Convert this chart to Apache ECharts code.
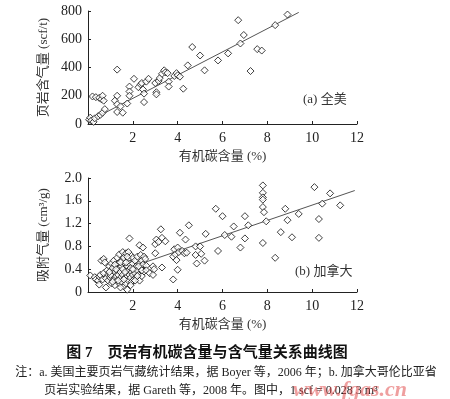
<!DOCTYPE html>
<html>
<head>
<meta charset="utf-8">
<title>页岩有机碳含量与含气量关系曲线图</title>
<style>
  body { margin: 0; background: #fff; }
  #main { width: 450px; height: 399px; }
</style>
<script src="https://cdn.jsdelivr.net/npm/echarts@6/dist/echarts.min.js"></script>
</head>
<body>
<div id="main"></div>
<script>
// (a) 全美: 有机碳含量 (%) vs 页岩含气量 (scf/t)
var tocUS = [0.05, 0.1, 0.15, 0.25, 0.3, 0.45, 0.55, 0.65, 0.75,
  0.2, 0.35, 0.5, 0.6, 0.65, 0.7,
  1.2, 1.3, 1.3, 1.3, 1.3, 1.45, 1.55, 1.75, 1.85, 1.85, 1.85, 2.05, 2.25, 2.35, 2.4, 2.45, 2.5, 2.5, 2.6, 2.7,
  3.0, 3.05, 3.05, 3.15, 3.2, 3.3, 3.4, 3.45, 3.55, 3.6, 3.6, 3.85, 3.95, 4.0, 4.1, 4.25, 4.45,
  4.65, 5.0, 5.2, 5.8, 6.25, 6.7, 6.8, 6.95, 7.25, 7.55, 7.75, 8.35, 8.9];
var gasUS = [30, 45, 25, 15, 40, 55, 65, 80, 105,
  195, 190, 185, 175, 200, 165,
  165, 385, 200, 140, 85, 125, 80, 145, 265, 230, 200, 320, 260, 280, 290, 245, 215, 155, 300, 320,
  290, 225, 210, 305, 325, 355, 380, 365, 360, 300, 265, 340, 360, 345, 335, 250, 415,
  545, 485, 380, 450, 500, 735, 570, 630, 375, 530, 520, 700, 775];
var trendUS = [[0.4, 50], [9.4, 790]];

// (b) 加拿大: 有机碳含量 (%) vs 吸附气量 (cm3/g)
var tocCA = [0.1, 0.3, 0.35, 0.45, 0.5, 0.5, 0.55, 0.6, 0.65, 0.7, 0.7, 0.75, 0.8, 0.8, 0.85, 0.9, 0.9, 0.95,
  1.0, 1.0, 1.05, 1.05, 1.1, 1.1, 1.15, 1.15, 1.2, 1.2, 1.25, 1.25, 1.3, 1.3, 1.3, 1.35, 1.35,
  1.4, 1.4, 1.4, 1.45, 1.45, 1.5, 1.5, 1.5, 1.55, 1.55, 1.6, 1.6, 1.6, 1.65, 1.65, 1.7, 1.7, 1.7,
  1.75, 1.75, 1.75, 1.8, 1.8, 1.8, 1.85, 1.85, 1.85, 1.9, 1.9, 1.9, 1.95, 1.95, 2.0, 2.0, 2.0,
  2.05, 2.05, 2.1, 2.1, 2.15, 2.15, 2.2, 2.2, 2.25, 2.3, 2.3, 2.3, 2.35, 2.35, 2.4, 2.4, 2.45, 2.45,
  2.5, 2.5, 2.55, 2.6,
  1.2, 1.35, 1.45, 1.55, 1.65, 1.7, 1.8, 1.9, 2.0, 2.1, 2.25, 1.0, 1.1, 1.25, 1.6, 1.75, 2.2, 0.95, 1.45, 2.4,
  2.6, 2.75, 2.9, 2.9, 2.95, 3.0, 3.0, 3.05, 3.15, 3.25, 3.3, 3.3, 3.45, 3.8, 3.8, 3.85, 3.9, 3.95,
  4.0, 4.0, 4.05, 4.1, 4.2, 4.3, 4.35, 4.5, 4.4, 4.8, 4.8, 4.85, 5.0, 5.05, 5.2, 5.25,
  5.7, 5.8, 6.0, 6.1, 6.4, 6.5, 6.8, 7.0, 7.0, 7.15,
  7.8, 7.8, 7.8, 7.8, 7.8, 7.85, 7.95, 7.8, 8.35, 8.6, 8.8, 8.9, 9.1, 9.4,
  10.1, 10.3, 10.3, 10.45, 10.8, 11.25];
var gasCA = [0.29, 0.26, 0.22, 0.2, 0.13, 0.27, 0.3, 0.55, 0.22, 0.58, 0.33, 0.52, 0.08, 0.24, 0.38, 0.2, 0.3, 0.45,
  0.25, 0.36, 0.15, 0.5, 0.3, 0.42, 0.22, 0.55, 0.35, 0.12, 0.28, 0.46, 0.2, 0.6, 0.38, 0.3, 0.5,
  0.15, 0.42, 0.66, 0.25, 0.35, 0.55, 0.18, 0.45, 0.3, 0.7, 0.1, 0.4, 0.6, 0.25, 0.5, 0.35, 0.68, 0.15,
  0.04, 0.45, 0.28, 0.58, 0.2, 0.38, 0.94, 0.3, 0.5, 0.25, 0.42, 0.65, 0.35, 0.18, 0.3, 0.5, 0.6,
  0.4, 0.22, 0.33, 0.55, 0.45, 0.26, 0.38, 0.62, 0.3, 0.82, 0.5, 0.2, 0.42, 0.65, 0.28, 0.55, 0.78, 0.48,
  0.62, 0.36, 0.58, 0.46,
  0.48, 0.2, 0.52, 0.4, 0.35, 0.52, 0.7, 0.12, 0.4, 0.2, 0.45, 0.3, 0.18, 0.4, 0.22, 0.62, 0.28, 0.35, 0.08, 0.38,
  0.38, 0.33, 0.45, 0.3, 0.4, 0.68, 0.84, 0.92, 0.88, 1.1, 0.95, 0.43, 0.89, 0.22, 0.62, 0.75, 0.66, 0.56,
  0.78, 0.39, 0.7, 1.04, 0.72, 0.68, 0.92, 1.17, 0.69, 0.8, 0.65, 0.5, 0.8, 0.67, 0.55, 1.02,
  1.46, 0.72, 1.33, 1.0, 0.97, 1.15, 0.78, 1.33, 0.94, 1.17,
  1.87, 1.74, 1.66, 1.62, 1.49, 1.4, 1.24, 0.86, 0.6, 1.05, 1.46, 1.26, 0.96, 1.37,
  1.84, 1.28, 0.95, 1.55, 1.73, 1.52];
var trendCA = [[0.3, 0.22], [11.9, 1.78]];

var xMin = 0, xMax = 12, xStep = 2;
var font = '"Liberation Serif", "Noto Sans CJK SC", serif';

function pairs(xs, ys) {
  var out = [];
  for (var i = 0; i < xs.length; i++) out.push([xs[i], ys[i]]);
  return out;
}

function xAxisFor(idx) {
  return {
    type: 'value', gridIndex: idx, min: xMin, max: xMax, interval: xStep,
    name: '有机碳含量 (%)', nameLocation: 'middle', nameGap: 26,
    nameTextStyle: { color: '#333', fontSize: 13, fontFamily: font },
    axisLine: { lineStyle: { color: '#222', width: 1 } },
    axisTick: { inside: true, length: 3, lineStyle: { color: '#222' } },
    axisLabel: { color: '#222', fontSize: 14, margin: 7, fontFamily: font,
      formatter: function (v) { return v === 0 ? '' : v; } },
    splitLine: { show: false }
  };
}

function yAxisFor(idx, max, step, name, fmt) {
  return {
    type: 'value', gridIndex: idx, min: 0, max: max, interval: step,
    name: name, nameLocation: 'middle', nameGap: 38,
    nameTextStyle: { color: '#333', fontSize: 13, fontFamily: font },
    axisLine: { show: true, lineStyle: { color: '#222', width: 1 } },
    axisTick: { show: true, inside: true, length: 3, lineStyle: { color: '#222' } },
    axisLabel: { color: '#222', fontSize: 14, margin: 6, fontFamily: font, formatter: fmt },
    splitLine: { show: false }
  };
}

var dots = { color: '#fff', borderColor: '#111', borderWidth: 1 };
var trendStyle = { color: '#555', width: 1 };

var chart = echarts.init(document.getElementById('main'));
chart.setOption({
  backgroundColor: '#fff',
  animation: false,
  grid: [
    { left: 88, top: 11, width: 269, height: 113 },
    { left: 88, top: 178, width: 269, height: 114 }
  ],
  xAxis: [xAxisFor(0), xAxisFor(1)],
  yAxis: [
    yAxisFor(0, 800, 200, '页岩含气量 (scf/t)', function (v) { return v; }),
    yAxisFor(1, 2.0, 0.4, '吸附气量 (cm³/g)', function (v) { return v === 0 ? '0' : v.toFixed(1); })
  ],
  series: [
    { type: 'line', xAxisIndex: 0, yAxisIndex: 0, data: trendUS, symbol: 'none', lineStyle: trendStyle, z: 1 },
    { type: 'scatter', xAxisIndex: 0, yAxisIndex: 0, data: pairs(tocUS, gasUS),
      symbol: 'diamond', symbolSize: 7, itemStyle: dots, z: 2 },
    { type: 'line', xAxisIndex: 1, yAxisIndex: 1, data: trendCA, symbol: 'none', lineStyle: trendStyle, z: 1 },
    { type: 'scatter', xAxisIndex: 1, yAxisIndex: 1, data: pairs(tocCA, gasCA),
      symbol: 'diamond', symbolSize: 7, itemStyle: dots, z: 2 }
  ],
  graphic: [
    { type: 'text', left: 303, top: 93, style: { text: '(a) 全美', fill: '#333', fontSize: 13, fontFamily: font } },
    { type: 'text', left: 295, top: 265, style: { text: '(b) 加拿大', fill: '#333', fontSize: 13, fontFamily: font } },
    { type: 'text', x: 207, y: 353, style: { text: '图 7　页岩有机碳含量与含气量关系曲线图', fill: '#111',
      fontSize: 15, fontWeight: 'bold', fontFamily: font, align: 'center', verticalAlign: 'middle' } },
    { type: 'text', x: 226, y: 373, style: { text: '注：a. 美国主要页岩气藏统计结果，据 Boyer 等，2006 年；b. 加拿大哥伦比亚省',
      fill: '#222', fontSize: 12, fontFamily: font, align: 'center', verticalAlign: 'middle' } },
    { type: 'text', x: 211, y: 391, style: { text: '页岩实验结果，据 Gareth 等，2008 年。图中，1 scf = 0.028 3 m³',
      fill: '#222', fontSize: 12, fontFamily: font, align: 'center', verticalAlign: 'middle' } },
    { type: 'text', x: 293, y: 390, z: 10, style: { text: 'www.fgas.cn', fill: 'rgba(225,80,80,0.55)',
      fontSize: 22, fontStyle: 'italic', fontWeight: 'bold', fontFamily: font, verticalAlign: 'middle' } }
  ]
});
</script>
</body>
</html>
